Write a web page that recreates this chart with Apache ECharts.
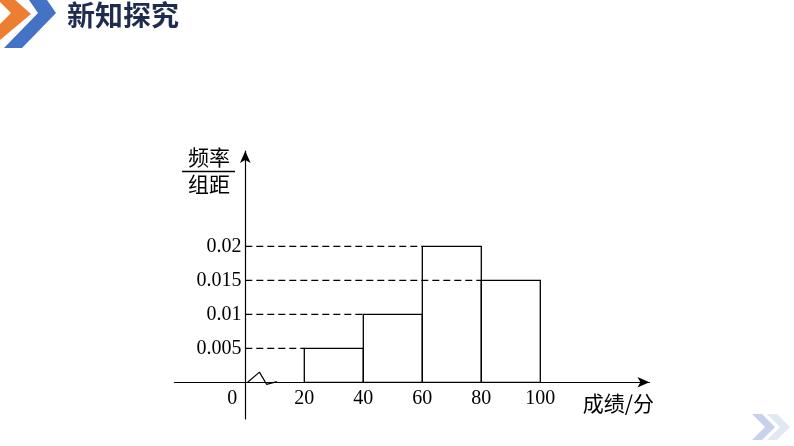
<!DOCTYPE html>
<html>
<head>
<meta charset="utf-8">
<script src="https://cdn.jsdelivr.net/npm/echarts@6/dist/echarts.min.js"></script>
<style>
html,body{margin:0;padding:0;background:#fff;}
#chart{width:794px;height:446px;}
</style>
</head>
<body>
<div id="chart"></div>
<script>
// ---- data ----
const binStarts = [20, 40, 60, 80];
const binEnds = [40, 60, 80, 100];
const densities = [0.005, 0.01, 0.02, 0.015];
const xTickValues = [0, 20, 40, 60, 80, 100];
const yTickValues = [0.005, 0.01, 0.015, 0.02];
const yTickLabels = ['0.005', '0.01', '0.015', '0.02'];
const breakMark = [[0.8, 0], [4.8, 0.0015], [7.2, -0.0003], [10.7, 0.0001]];
const titleText = '新知探究';
const yNameTop = '频率';
const yNameBottom = '组距';
const xName = '成绩/分';

const histData = binStarts.map((s, i) => [s, binEnds[i], densities[i]]);

const chart = echarts.init(document.getElementById('chart'), null, {renderer: 'canvas'});
const serif = '"Liberation Serif", "DejaVu Serif", serif';
const cjk = '"Noto Sans CJK SC", sans-serif';

const option = {
  animation: false,
  backgroundColor: '#ffffff',
  grid: {left: 174.5, top: 151.1, width: 474.95, height: 267.9, containLabel: false},
  xAxis: {
    type: 'value',
    min: -24,
    max: 137,
    splitLine: {show: false},
    axisTick: {show: false},
    axisLine: {show: true, onZero: true, symbol: ['none', 'arrow'], symbolSize: [8, 12],
      lineStyle: {color: '#000', width: 1.2}},
    axisLabel: {
      customValues: xTickValues,
      margin: -30,
      color: '#000',
      fontFamily: serif,
      fontSize: 20,
      formatter: function (v) { return v === 0 ? '{z|0}' : String(v); },
      rich: {z: {fontFamily: serif, fontSize: 20, color: '#000', padding: [0, 26, 3, 0]}}
    },
    name: xName,
    nameLocation: 'end',
    nameGap: 4.5,
    nameTextStyle: {fontFamily: cjk, fontSize: 21, color: '#000', align: 'right', verticalAlign: 'top', padding: [10, 0, 0, 0]}
  },
  yAxis: {
    type: 'value',
    min: -0.0054,
    max: 0.034,
    splitLine: {show: false},
    axisTick: {show: false},
    axisLine: {show: true, onZero: true, symbol: ['none', 'arrow'], symbolSize: [8, 12],
      lineStyle: {color: '#000', width: 1.2}},
    axisLabel: {
      customValues: yTickValues,
      margin: -67,
      color: '#000',
      fontFamily: serif,
      fontSize: 20,
      padding: [6, 0, 0, 0],
      formatter: function (v) {
        let best = 0, bd = Infinity;
        yTickValues.forEach((t, i) => { const d = Math.abs(t - v); if (d < bd) { bd = d; best = i; } });
        return yTickLabels[best];
      }
    }
  },
  graphic: [
    // header logo chevrons
    {type: 'polygon', shape: {points: [[0, -1], [14, -1], [31, 14], [0, 40], [0, 24], [11, 13], [0, 2]]}, style: {fill: '#ED7D31'}},
    {type: 'polygon', shape: {points: [[29, 0], [47, 0], [56, 13], [22, 48], [4, 48], [38, 13]]}, style: {fill: '#4472C4'}},
    {type: 'text', left: 67, top: 1, style: {text: titleText, font: 'bold 28px ' + cjk, fill: '#1F2C4F'}},
    // y axis name as fraction
    {type: 'text', x: 209, y: 157, style: {text: yNameTop, font: '21px ' + cjk, fill: '#000', align: 'center', verticalAlign: 'middle'}},
    {type: 'line', shape: {x1: 182, y1: 171.5, x2: 235, y2: 171.5}, style: {stroke: '#000', lineWidth: 1.3}},
    {type: 'text', x: 209, y: 184, style: {text: yNameBottom, font: '21px ' + cjk, fill: '#000', align: 'center', verticalAlign: 'middle'}},
    // bottom-right decoration
    {type: 'polygon', shape: {points: [[752, 414], [762, 414], [775, 427], [762, 440], [752, 440], [765, 427]]}, style: {fill: '#C7D1EC'}},
    {type: 'polygon', shape: {points: [[767, 414], [777, 414], [790, 427], [777, 440], [767, 440], [780, 427]]}, style: {fill: '#E2E7F4'}}
  ],
  series: [
    {
      type: 'custom',
      silent: true,
      data: histData,
      renderItem: function (params, api) {
        const x0 = api.value(0), x1 = api.value(1), h = api.value(2);
        const tl = api.coord([x0, h]);
        const br = api.coord([x1, 0]);
        const ax = api.coord([0, h]);
        return {
          type: 'group',
          children: [
            {type: 'line', shape: {x1: ax[0], y1: tl[1], x2: tl[0], y2: tl[1]},
              style: {stroke: '#000', lineWidth: 1.3, lineDash: [7, 4]}},
            {type: 'rect', shape: {x: tl[0], y: tl[1], width: br[0] - tl[0], height: br[1] - tl[1]},
              style: {fill: 'none', stroke: '#000', lineWidth: 1.3}}
          ]
        };
      }
    },
    {
      type: 'line',
      silent: true,
      data: breakMark,
      symbol: 'none',
      lineStyle: {color: '#000', width: 1.2}
    }
  ]
};
chart.setOption(option);
</script>
</body>
</html>
